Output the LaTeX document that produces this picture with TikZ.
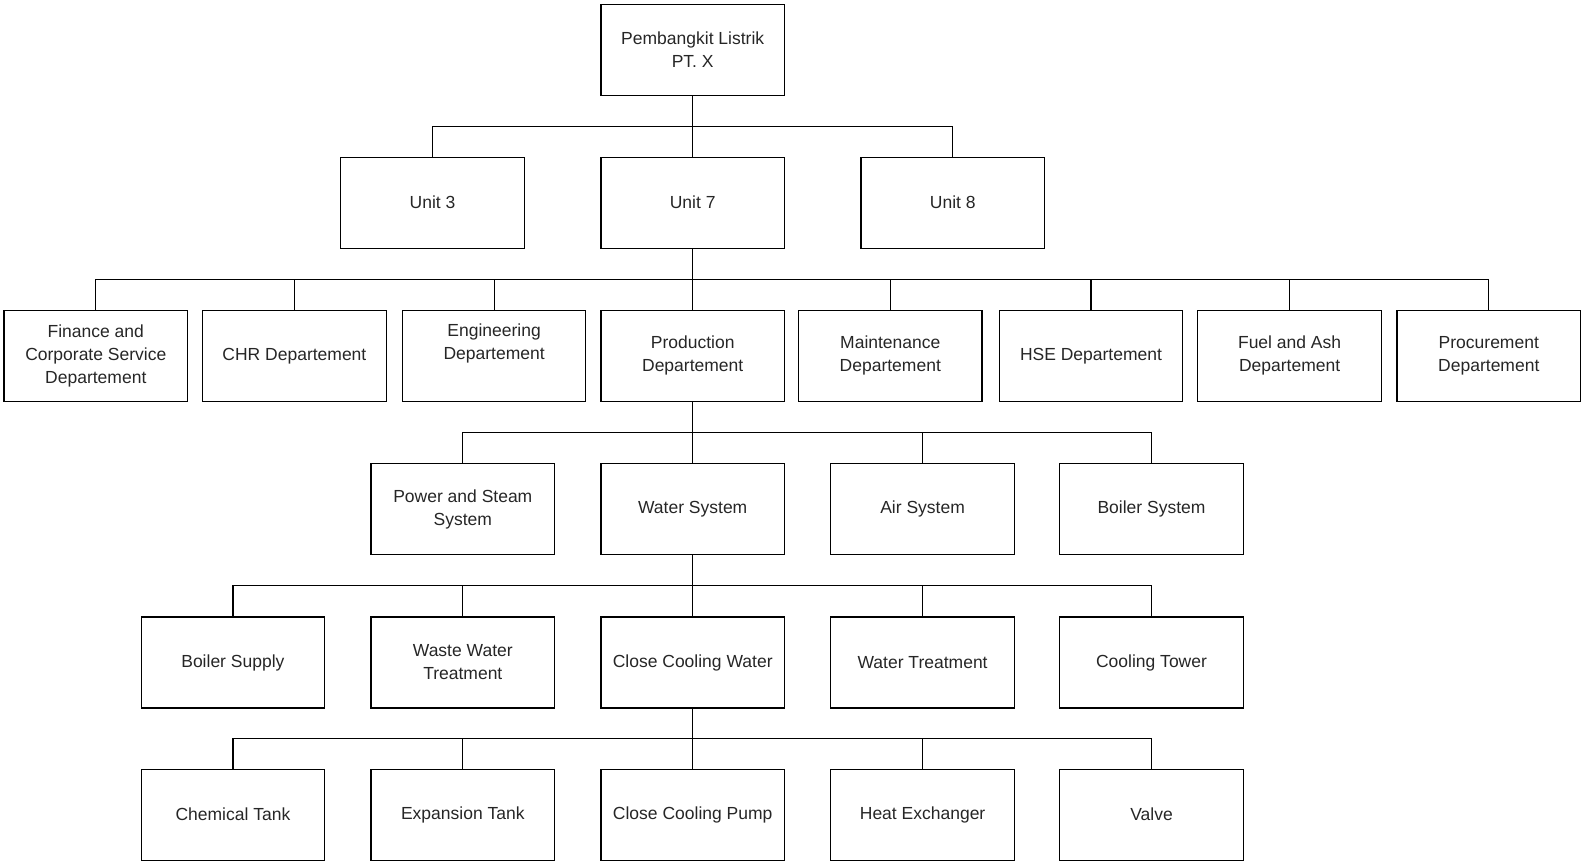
\documentclass[tikz,border=0pt]{standalone}
\usepackage{fontspec}
\setmainfont{Liberation Sans}
\usetikzlibrary{calc}
\begin{document}
\begin{tikzpicture}[x=1pt,y=-1pt,
  unitbox/.style={draw, line width=1.2pt, minimum width=183.5pt, minimum height=91pt,
    inner sep=2pt, align=center, font=\fontsize{17.5}{23}\selectfont, text=black!85},
  link/.style={line width=1.2pt}]
\useasboundingbox (0,0) rectangle (1581,863);
% level 0
\node[unitbox] (root) at (692.7,49.9) {Pembangkit Listrik\\PT. X};
% level 1: units
\node[unitbox] (u3) at (432.6,202.7) {Unit 3};
\node[unitbox] (u7) at (692.7,202.7) {Unit 7};
\node[unitbox] (u8) at (952.8,202.7) {Unit 8};
% level 2: departments
\node[unitbox] (d1) at (95.8,355.9) {Finance and\\Corporate Service\\Departement};
\node[unitbox] (d2) at (294.4,355.9) {CHR Departement};
\node[unitbox] (d3) at (494.1,355.9) {Engineering\\Departement\\[-2pt]\strut};
\node[unitbox] (d4) at (692.7,355.9) {Production\\Departement};
\node[unitbox] (d5) at (890.3,355.9) {Maintenance\\Departement};
\node[unitbox] (d6) at (1091.0,355.9) {HSE Departement};
\node[unitbox] (d7) at (1289.6,355.9) {Fuel and Ash\\Departement};
\node[unitbox] (d8) at (1488.8,355.9) {Procurement\\Departement};
% level 3: systems
\node[unitbox] (s1) at (462.8,509.2) {Power and Steam\\System};
\node[unitbox] (s2) at (692.7,509.2) {Water System};
\node[unitbox] (s3) at (922.6,509.2) {Air System};
\node[unitbox] (s4) at (1151.5,509.2) {Boiler System};
% level 4: water system parts
\node[unitbox] (w1) at (232.9,662.5) {Boiler Supply};
\node[unitbox] (w2) at (462.8,662.5) {Waste Water\\Treatment};
\node[unitbox] (w3) at (692.7,662.5) {Close Cooling Water};
\node[unitbox] (w4) at (922.6,662.5) {Water Treatment};
\node[unitbox] (w5) at (1151.5,662.5) {Cooling Tower};
% level 5: close cooling water parts
\node[unitbox] (c1) at (232.9,814.7) {Chemical Tank};
\node[unitbox] (c2) at (462.8,814.7) {Expansion Tank};
\node[unitbox] (c3) at (692.7,814.7) {Close Cooling Pump};
\node[unitbox] (c4) at (922.6,814.7) {Heat Exchanger};
\node[unitbox] (c5) at (1151.5,814.7) {Valve};
% orthogonal tree connectors
\foreach \p/\kids in {root/{u3,u7,u8}, u7/{d1,d2,d3,d4,d5,d6,d7,d8},
    d4/{s1,s2,s3,s4}, s2/{w1,w2,w3,w4,w5}, w3/{c1,c2,c3,c4,c5}} {
  \foreach \c in \kids {
    \draw[link] (\p.south) |- ($(\p.south)!0.5!(\c.north)$) -| (\c.north);
  }
}
\end{tikzpicture}
\end{document}
